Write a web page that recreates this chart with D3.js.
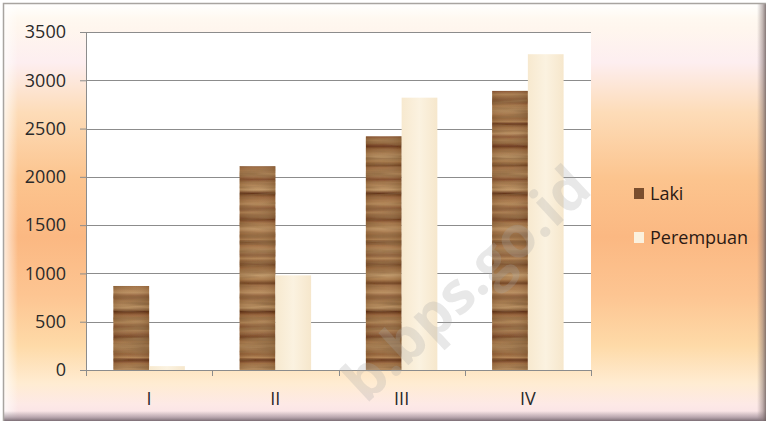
<!DOCTYPE html>
<html>
<head>
<meta charset="utf-8">
<script src="https://cdn.jsdelivr.net/npm/d3@7"></script>
<style>
  html, body { margin: 0; padding: 0; background: #ffffff; }
  svg { display: block; }
  text { font-family: "Open Sans", "Noto Sans", sans-serif; }
</style>
</head>
<body>
<svg id="chart" width="768" height="424"></svg>
<script>
// ---- data ----
const categories = ["I", "II", "III", "IV"];
const seriesNames = ["Laki", "Perempuan"];
const laki = [870, 2110, 2420, 2890];
const perempuan = [40, 980, 2820, 3270];
const yTicks = [0, 500, 1000, 1500, 2000, 2500, 3000, 3500];
const watermark = "b.bps.go.id";

// ---- styling (texture stops for wood fill) ----
const woodStops = [
  [0.00, "#925c32"], [0.03, "#b08050"], [0.05, "#643218"], [0.08, "#a06c40"],
  [0.13, "#bd9262"], [0.16, "#8a5432"], [0.19, "#b08252"], [0.24, "#6a3618"],
  [0.27, "#9a663a"], [0.33, "#c09868"], [0.37, "#a87848"], [0.40, "#70401f"],
  [0.42, "#9e6c40"], [0.48, "#b88c5c"], [0.52, "#804a2a"], [0.55, "#aa7a4c"],
  [0.61, "#bf9564"], [0.64, "#5e2e14"], [0.67, "#986238"], [0.73, "#b48858"],
  [0.77, "#86502e"], [0.80, "#ae8052"], [0.86, "#703c1e"], [0.89, "#a67446"],
  [0.94, "#bb9060"], [1.00, "#925c32"]
];

const W = 768, H = 424;
const svg = d3.select("#chart");
const defs = svg.append("defs");

// background gradient
const bg = defs.append("linearGradient").attr("id", "bgGrad")
  .attr("x1", 0).attr("y1", 0).attr("x2", 0).attr("y2", 1);
[[0.00, "#fffcf4"], [0.06, "#fff6ee"], [0.14, "#fdeef0"], [0.26, "#fddcb8"],
 [0.42, "#fcc48e"], [0.56, "#fbb882"], [0.70, "#fdc592"], [0.82, "#fedaa8"],
 [0.91, "#ffecd2"], [0.96, "#fde9e6"], [1.00, "#f6e0e6"]]
  .forEach(([o, c]) => bg.append("stop").attr("offset", o).attr("stop-color", c));

const topHi = defs.append("linearGradient").attr("id", "topHi")
  .attr("x1", 0).attr("y1", 0).attr("x2", 0).attr("y2", 1);
topHi.append("stop").attr("offset", 0).attr("stop-color", "#ffffff").attr("stop-opacity", 0.85);
topHi.append("stop").attr("offset", 1).attr("stop-color", "#ffffff").attr("stop-opacity", 0);
const leftHi = defs.append("linearGradient").attr("id", "leftHi")
  .attr("x1", 0).attr("y1", 0).attr("x2", 1).attr("y2", 0);
leftHi.append("stop").attr("offset", 0).attr("stop-color", "#ffffff").attr("stop-opacity", 0.7);
leftHi.append("stop").attr("offset", 1).attr("stop-color", "#ffffff").attr("stop-opacity", 0);
const botSh = defs.append("linearGradient").attr("id", "botSh")
  .attr("x1", 0).attr("y1", 0).attr("x2", 0).attr("y2", 1);
botSh.append("stop").attr("offset", 0).attr("stop-color", "#8a7a84").attr("stop-opacity", 0);
botSh.append("stop").attr("offset", 0.6).attr("stop-color", "#8a7a84").attr("stop-opacity", 0.55);
botSh.append("stop").attr("offset", 1).attr("stop-color", "#6e6068").attr("stop-opacity", 0.9);
const rightSh = defs.append("linearGradient").attr("id", "rightSh")
  .attr("x1", 0).attr("y1", 0).attr("x2", 1).attr("y2", 0);
rightSh.append("stop").attr("offset", 0).attr("stop-color", "#8a7a7a").attr("stop-opacity", 0);
rightSh.append("stop").attr("offset", 0.6).attr("stop-color", "#8a7a7a").attr("stop-opacity", 0.5);
rightSh.append("stop").attr("offset", 1).attr("stop-color", "#6e6060").attr("stop-opacity", 0.85);

// wood gradient
const wood = defs.append("linearGradient").attr("id", "wood")
  .attr("gradientUnits", "userSpaceOnUse").attr("spreadMethod", "repeat")
  .attr("x1", 0).attr("y1", 0).attr("x2", 0).attr("y2", 118);
woodStops.forEach(([o, c]) => wood.append("stop").attr("offset", o).attr("stop-color", c));
const woodSide = defs.append("linearGradient").attr("id", "woodSide")
  .attr("x1", 0).attr("y1", 0).attr("x2", 1).attr("y2", 0);
woodSide.append("stop").attr("offset", 0).attr("stop-color", "#4a2a10").attr("stop-opacity", 0.12);
woodSide.append("stop").attr("offset", 0.5).attr("stop-color", "#ffffff").attr("stop-opacity", 0.04);
woodSide.append("stop").attr("offset", 1).attr("stop-color", "#4a2a10").attr("stop-opacity", 0.15);
const cream = defs.append("linearGradient").attr("id", "cream")
  .attr("x1", 0).attr("y1", 0).attr("x2", 1).attr("y2", 0);
cream.append("stop").attr("offset", 0).attr("stop-color", "#f7e9cf");
cream.append("stop").attr("offset", 0.5).attr("stop-color", "#fbf2e0");
cream.append("stop").attr("offset", 1).attr("stop-color", "#f6e7cc");

// wood grain filter
const grain = defs.append("filter").attr("id", "grain")
  .attr("filterUnits", "userSpaceOnUse")
  .attr("x", 0).attr("y", 0).attr("width", W).attr("height", H);
grain.append("feTurbulence").attr("type", "fractalNoise")
  .attr("baseFrequency", "0.015 0.18").attr("numOctaves", 3).attr("seed", 7).attr("result", "n");
grain.append("feColorMatrix").attr("in", "n").attr("type", "matrix")
  .attr("values", "0 0 0 0 0.28  0 0 0 0 0.14  0 0 0 0 0.05  0 0 0 2.4 -0.9")
  .attr("result", "c");
grain.append("feComposite").attr("in", "c").attr("in2", "SourceGraphic").attr("operator", "in").attr("result", "m");
const gm = grain.append("feMerge");
gm.append("feMergeNode").attr("in", "SourceGraphic");
gm.append("feMergeNode").attr("in", "m");

// frame
svg.append("rect").attr("x", 0).attr("y", 0).attr("width", W).attr("height", H).attr("fill", "#ffffff");
svg.append("rect").attr("x", 4).attr("y", 4).attr("width", 762).attr("height", 417).attr("fill", "url(#bgGrad)");
svg.append("rect").attr("x", 4).attr("y", 4).attr("width", 762).attr("height", 14).attr("fill", "url(#topHi)");
svg.append("rect").attr("x", 4).attr("y", 4).attr("width", 14).attr("height", 417).attr("fill", "url(#leftHi)");
svg.append("rect").attr("x", 4).attr("y", 411).attr("width", 762).attr("height", 10).attr("fill", "url(#botSh)");
svg.append("rect").attr("x", 757).attr("y", 4).attr("width", 9).attr("height", 417).attr("fill", "url(#rightSh)");
svg.append("path").attr("d", "M3.5,421 V3.5 H766").attr("fill", "none").attr("stroke", "#a8a4a0").attr("stroke-width", 1.5);

// scales
const plotL = 86, plotR = 591, plotT = 32, plotB = 370;
const x0 = d3.scaleBand().domain(categories).range([plotL, plotR])
  .paddingInner(0.434).paddingOuter(0.217);
const x1 = d3.scaleBand().domain(seriesNames).range([0, x0.bandwidth()]);
const y = d3.scaleLinear().domain([0, 3500]).range([plotB, plotT]);

// plot area
svg.append("rect").attr("x", plotL).attr("y", plotT).attr("width", plotR - plotL)
  .attr("height", plotB - plotT).attr("fill", "#ffffff");

// gridlines
svg.append("g").selectAll("line").data(yTicks.filter(d => d > 0)).join("line")
  .attr("x1", plotL).attr("x2", plotR)
  .attr("y1", d => Math.round(y(d)) + 0.5).attr("y2", d => Math.round(y(d)) + 0.5)
  .attr("stroke", "#8c8c8c").attr("stroke-width", 1);

// bars
const rows = categories.map((c, i) => ({ cat: c, Laki: laki[i], Perempuan: perempuan[i] }));
const fills = { Laki: "url(#wood)", Perempuan: "url(#cream)" };
const groups = svg.append("g").selectAll("g").data(rows).join("g")
  .attr("transform", d => `translate(${x0(d.cat)},0)`);
groups.selectAll("rect.bar").data(d => seriesNames.map(s => ({ s, v: d[s] }))).join("rect")
  .attr("class", "bar")
  .attr("x", d => x1(d.s)).attr("width", x1.bandwidth())
  .attr("y", d => y(d.v)).attr("height", d => y(0) - y(d.v))
  .attr("fill", d => fills[d.s])
  .attr("filter", d => d.s === "Laki" ? "url(#grain)" : null);
groups.selectAll("rect.shade").data(d => [{ v: d.Laki }]).join("rect")
  .attr("class", "shade")
  .attr("x", x1("Laki")).attr("width", x1.bandwidth())
  .attr("y", d => y(d.v)).attr("height", d => y(0) - y(d.v))
  .attr("fill", "url(#woodSide)");

// y axis
const yAxis = svg.append("g").attr("transform", `translate(${plotL},0)`)
  .call(d3.axisLeft(y).tickValues(yTicks).tickFormat(d3.format("d"))
    .tickSize(6).tickSizeOuter(0).tickPadding(14));
yAxis.select(".domain").attr("stroke", "#8c8c8c").attr("d", `M0.5,${plotT}V${plotB}`);
yAxis.selectAll(".tick line").attr("stroke", "#8c8c8c");
yAxis.selectAll(".tick text").attr("font-size", 18).attr("fill", "#2a2a2a")
  .attr("font-family", "'Open Sans', sans-serif");

// x axis
const xAxis = svg.append("g").attr("transform", `translate(0,${plotB})`)
  .call(d3.axisBottom(x0).tickSize(0).tickPadding(22));
xAxis.select(".domain").attr("stroke", "#8c8c8c").attr("d", `M${plotL},0.5H${plotR}`);
xAxis.selectAll(".tick text").attr("font-size", 18).attr("fill", "#2a2a2a")
  .attr("font-family", "'Open Sans', sans-serif");
const bounds = [plotL].concat(categories.map(c => x0(c) + x0.bandwidth() + x0.step() * x0.paddingInner() / 2));
bounds[bounds.length - 1] = plotR;
xAxis.selectAll("line.bound").data(bounds).join("line").attr("class", "bound")
  .attr("x1", d => Math.round(d) + 0.5).attr("x2", d => Math.round(d) + 0.5)
  .attr("y1", 0).attr("y2", 6).attr("stroke", "#8c8c8c");

// legend
const legendColors = { Laki: "#7a4e2e", Perempuan: "#fbf1de" };
const legend = svg.append("g").selectAll("g").data(seriesNames).join("g")
  .attr("transform", (d, i) => `translate(634,${188 + i * 44})`);
legend.append("rect").attr("width", 10).attr("height", 11).attr("fill", d => legendColors[d]);
legend.append("text").attr("x", 16).attr("y", 6).attr("dy", "0.35em")
  .attr("font-size", 18).attr("fill", "#2b1a14").text(d => d);

// watermark
svg.append("text").attr("text-anchor", "end")
  .attr("transform", "translate(594,192) rotate(-43)")
  .attr("font-size", 58).attr("font-weight", "bold")
  .attr("font-family", "'Liberation Sans', Arial, sans-serif")
  .attr("fill", "#a8a8a8").attr("fill-opacity", 0.26)
  .text(watermark);
</script>
</body>
</html>
